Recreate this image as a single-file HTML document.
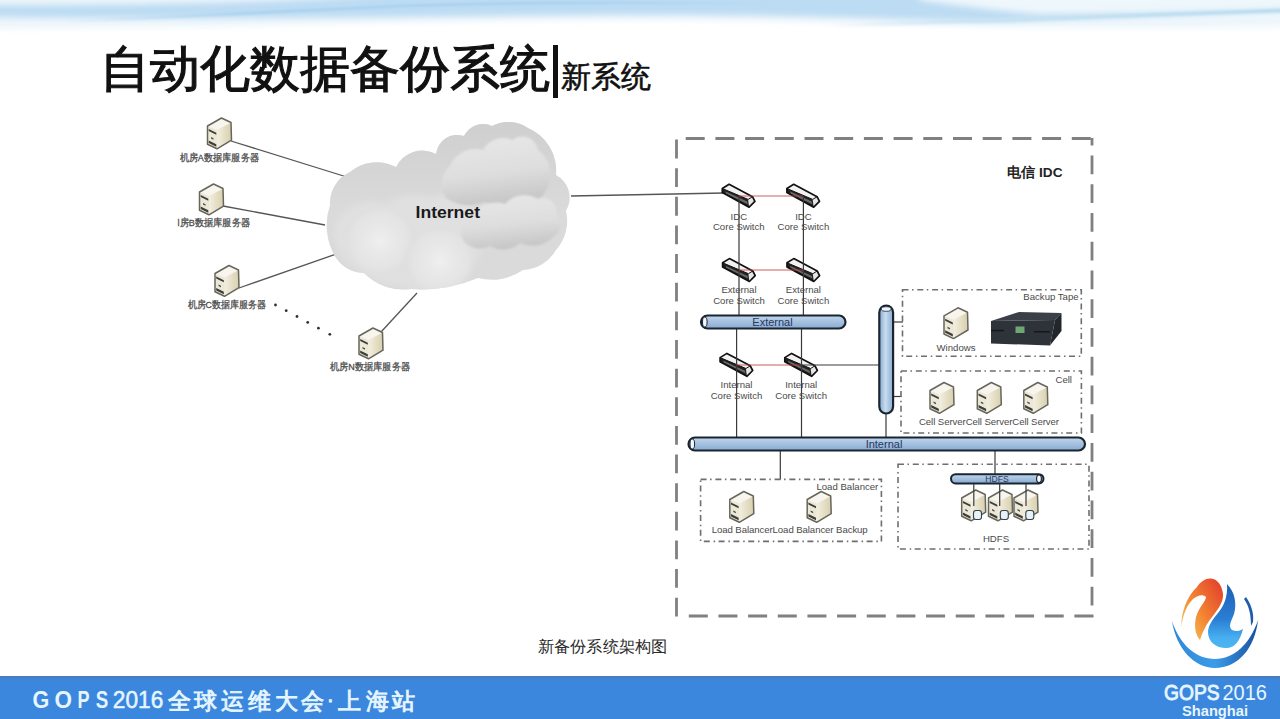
<!DOCTYPE html>
<html><head><meta charset="utf-8">
<style>
html,body{margin:0;padding:0;background:#fff;}
body{width:1280px;height:719px;overflow:hidden;position:relative;font-family:"Liberation Sans",sans-serif;}
svg{position:absolute;left:0;top:0;}
.t{position:absolute;white-space:nowrap;line-height:1;}
</style></head><body>
<svg width="1280" height="719" viewBox="0 0 1280 719" font-family="Liberation Sans, sans-serif">
<defs>
  <linearGradient id="ctop" x1="0" y1="0" x2="0" y2="1">
    <stop offset="0" stop-color="#c8c8c8" stop-opacity="0.7"/>
    <stop offset="1" stop-color="#c8c8c8" stop-opacity="0"/>
  </linearGradient>
  <linearGradient id="streak1" gradientUnits="userSpaceOnUse" x1="60" y1="0" x2="780" y2="0">
    <stop offset="0" stop-color="#a8d0ee" stop-opacity="0"/>
    <stop offset="0.3" stop-color="#a8d0ee" stop-opacity="1"/>
    <stop offset="0.7" stop-color="#a8d0ee" stop-opacity="1"/>
    <stop offset="1" stop-color="#a8d0ee" stop-opacity="0"/>
  </linearGradient>
  <linearGradient id="streak2" gradientUnits="userSpaceOnUse" x1="820" y1="0" x2="1300" y2="0">
    <stop offset="0" stop-color="#c6e2f2" stop-opacity="0"/>
    <stop offset="0.4" stop-color="#c6e2f2" stop-opacity="1"/>
    <stop offset="1" stop-color="#b8dcf0" stop-opacity="1"/>
  </linearGradient>
  <filter id="blur1" x="-10%" y="-10%" width="120%" height="120%"><feGaussianBlur stdDeviation="1"/></filter>
  <linearGradient id="cbase" x1="0" y1="0" x2="0" y2="1">
    <stop offset="0" stop-color="#d6d6d6"/>
    <stop offset="1" stop-color="#d0d0d0"/>
  </linearGradient>
  <linearGradient id="lobe" x1="0" y1="0" x2="0.2" y2="1">
    <stop offset="0" stop-color="#e8e8e8"/>
    <stop offset="0.6" stop-color="#dedede"/>
    <stop offset="1" stop-color="#c8c8c8"/>
  </linearGradient>
  <filter id="blur3" x="-5%" y="-50%" width="110%" height="200%"><feGaussianBlur stdDeviation="3"/></filter>
  <linearGradient id="crescent" x1="0" y1="0" x2="1" y2="0">
    <stop offset="0" stop-color="#2f86d8"/>
    <stop offset="0.5" stop-color="#3a9ce8"/>
    <stop offset="1" stop-color="#1a4fa0"/>
  </linearGradient>
  <linearGradient id="flame" x1="0" y1="0.8" x2="0.9" y2="0">
    <stop offset="0" stop-color="#f2c458"/>
    <stop offset="0.45" stop-color="#f38232"/>
    <stop offset="1" stop-color="#e2402c"/>
  </linearGradient>
  <linearGradient id="bswirl" x1="0" y1="0" x2="0" y2="1">
    <stop offset="0" stop-color="#1d5fb5"/>
    <stop offset="0.55" stop-color="#2a7ed4"/>
    <stop offset="0.85" stop-color="#48b0f0"/>
    <stop offset="1" stop-color="#4cb4f2"/>
  </linearGradient>
  <linearGradient id="topband" x1="0" y1="0" x2="0" y2="1">
    <stop offset="0" stop-color="#e9f4fb"/>
    <stop offset="0.3" stop-color="#b9dcf3"/>
    <stop offset="0.6" stop-color="#d8ecf8"/>
    <stop offset="1" stop-color="#ffffff" stop-opacity="0"/>
  </linearGradient>
  <linearGradient id="busH" x1="0" y1="0" x2="0" y2="1">
    <stop offset="0" stop-color="#c2d7ec"/>
    <stop offset="0.45" stop-color="#a6c2e0"/>
    <stop offset="1" stop-color="#88abd2"/>
  </linearGradient>
  <linearGradient id="busV" x1="0" y1="0" x2="1" y2="0">
    <stop offset="0" stop-color="#86a9d0"/>
    <stop offset="0.45" stop-color="#c8dcf0"/>
    <stop offset="1" stop-color="#88abd2"/>
  </linearGradient>
  <linearGradient id="srvR" x1="0" y1="0" x2="1" y2="0">
    <stop offset="0" stop-color="#f3efe0"/>
    <stop offset="1" stop-color="#d8cfae"/>
  </linearGradient>
  <radialGradient id="puff" cx="0.45" cy="0.4" r="0.6">
    <stop offset="0" stop-color="#e8e8e8"/>
    <stop offset="1" stop-color="#cdcdcd"/>
  </radialGradient>
  <g id="srv">
    <path d="M0,8.5 L14,0.5 L23.5,5 L24,22.7 L9.5,31.3 L0,26.7 Z" fill="#ece8d8"/>
    <path d="M9.5,12.5 L23.5,5 L24,22.7 L9.5,31.3 Z" fill="url(#srvR)"/>
    <path d="M0,8.5 L14,0.5 L23.5,5 L9.5,12.5 Z" fill="#f7f5ee"/>
    <path d="M1.2,11.5 L8.8,15.3 L8.8,17.3 L1.2,13.5 Z" fill="#3e3e38"/>
    <path d="M3.5,19.5 L6,20.8 L6,22.3 L3.5,21 Z" fill="#4a4a44"/>
    <path d="M1.2,23 L8.8,26.8 L8.8,29.3 L1.2,25.5 Z" fill="#3e3e38"/>
    <path d="M0,8.5 L14,0.5 L23.5,5 L24,22.7 L9.5,31.3 L0,26.7 Z" fill="none" stroke="#66665c" stroke-width="1.5" stroke-linejoin="round"/>
  </g>
  <g id="sw">
    <path d="M-16.4,-7.4 L-9.6,-11.6 L13.8,0.8 L9.4,3.5 Z" fill="#f2f2f2"/>
    <path d="M9.4,3.5 L13.8,0.8 L16.2,5.5 L10.4,11.3 Z" fill="#e6e6e6"/>
    <path d="M-16.4,-7.4 L9.4,3.5 L10.4,11.3 L-16.4,-3.3 Z" fill="#222"/>
    <path d="M-13,-4.3 L8.5,5.7 L9,8.3 L-13,-2.4 Z" fill="#6a6a6a"/>
    <path d="M-16.4,-7.4 L-9.6,-11.6 L13.8,0.8 L16.2,5.5 L10.4,11.3 L-16.4,-3.3 Z" fill="none" stroke="#111" stroke-width="1.7" stroke-linejoin="round"/>
    <path d="M-16.4,-7.4 L9.4,3.5 L13.8,0.8" fill="none" stroke="#111" stroke-width="1"/>
  </g>
  <radialGradient id="pl" cx="0.5" cy="0.45" r="0.5">
    <stop offset="0" stop-color="#f0f0f0" stop-opacity="0.95"/>
    <stop offset="0.7" stop-color="#e6e6e6" stop-opacity="0.6"/>
    <stop offset="1" stop-color="#d8d8d8" stop-opacity="0"/>
  </radialGradient>
  <radialGradient id="pd" cx="0.5" cy="0.5" r="0.5">
    <stop offset="0" stop-color="#c4c4c4" stop-opacity="0"/>
    <stop offset="0.8" stop-color="#c4c4c4" stop-opacity="0.25"/>
    <stop offset="1" stop-color="#bdbdbd" stop-opacity="0.5"/>
  </radialGradient>
  <clipPath id="cc"><path d="M336.0,258.0 A62.3,62.3 0 0 1 330.0,205.0 A34.0,34.0 0 0 1 350.0,172.0 A41.7,41.7 0 0 1 396.0,167.0 A29.1,29.1 0 0 1 436.0,154.0 A21.3,21.3 0 0 1 464.0,136.0 A21.4,21.4 0 0 1 492.0,126.0 A35.0,35.0 0 0 1 528.0,128.0 A46.1,46.1 0 0 1 556.0,175.0 A25.8,25.8 0 0 1 566.0,211.0 A43.0,43.0 0 0 1 556.0,250.0 A39.7,39.7 0 0 1 523.0,270.0 A54.7,54.7 0 0 1 478.0,278.0 A146.1,146.1 0 0 1 411.0,289.0 A54.4,54.4 0 0 1 364.0,273.0 A33.5,33.5 0 0 1 336.0,258.0 Z"/></clipPath>
  <path id="cloudp" d="M336.0,258.0 A62.3,62.3 0 0 1 330.0,205.0 A34.0,34.0 0 0 1 350.0,172.0 A41.7,41.7 0 0 1 396.0,167.0 A29.1,29.1 0 0 1 436.0,154.0 A21.3,21.3 0 0 1 464.0,136.0 A21.4,21.4 0 0 1 492.0,126.0 A35.0,35.0 0 0 1 528.0,128.0 A46.1,46.1 0 0 1 556.0,175.0 A25.8,25.8 0 0 1 566.0,211.0 A43.0,43.0 0 0 1 556.0,250.0 A39.7,39.7 0 0 1 523.0,270.0 A54.7,54.7 0 0 1 478.0,278.0 A146.1,146.1 0 0 1 411.0,289.0 A54.4,54.4 0 0 1 364.0,273.0 A33.5,33.5 0 0 1 336.0,258.0 Z"/>
  </defs>

<!-- top band -->
<g filter="url(#blur3)">
  <path d="M-20,-10 L1300,-10 L1300,26 C1150,30 1000,28 800,22 C600,18 400,22 200,27 C100,28 30,29 -20,29 Z" fill="#edf6fb"/>
  <path d="M-20,5 C100,5 300,3 380,-6 L900,-6 C950,-2 1000,4 1040,8 C1100,10 1150,8 1300,4 L1300,10 C1200,14 1100,18 1000,22 C900,20 800,14 600,15 C400,17 200,20 -20,17 Z" fill="#bcdcf3"/>
  <path d="M920,-10 L1300,-10 L1300,8 C1200,12 1100,14 1040,14 C990,10 950,4 920,0 Z" fill="#eef7fc"/>
</g>
<g filter="url(#blur1)" fill="none">
  <path d="M60,22 C200,16 300,10 400,6 C520,2 640,2 780,4" stroke="url(#streak1)" stroke-width="2.5"/>
  <path d="M820,26 C1000,21 1150,14 1300,10" stroke="url(#streak2)" stroke-width="4"/>
</g>
<!-- left lines -->
<g stroke="#555" stroke-width="1.3" fill="none">
  <line x1="231" y1="141" x2="350" y2="178"/>
  <line x1="223" y1="206" x2="325" y2="225"/>
  <line x1="239" y1="288" x2="342" y2="252"/>
  <line x1="381" y1="332" x2="417" y2="293"/>
  <line x1="571" y1="196" x2="724" y2="193"/>
</g>
<g fill="#333">
  <circle cx="275.5" cy="305" r="1.4"/><circle cx="286.2" cy="310.7" r="1.4"/><circle cx="297" cy="316.5" r="1.4"/><circle cx="307.7" cy="322.4" r="1.4"/><circle cx="318.4" cy="328.2" r="1.4"/><circle cx="329.8" cy="334.3" r="1.4"/>
</g>

<!-- cloud -->
<g id="cloud">
  <use href="#cloudp" fill="#dadada"/>
  <g clip-path="url(#cc)">
  <rect x="320" y="110" width="260" height="100" fill="url(#ctop)"/>
  <path d="M335.0,240.0 A24.6,24.6 0 0 1 345.0,212.0 A37.4,37.4 0 0 1 385.0,205.0 A46.2,46.2 0 0 1 430.0,198.0 A36.9,36.9 0 0 1 470.0,203.0 A60.2,60.2 0 0 1 480.0,250.0 A47.3,47.3 0 0 1 450.0,285.0 A55.1,55.1 0 0 1 400.0,285.0 A48.1,48.1 0 0 1 360.0,270.0 A40.6,40.6 0 0 1 335.0,240.0 Z" fill="#e0e0e0" filter="url(#blur3)"/>
  <circle cx="380" cy="245" r="40" fill="url(#pl)"/>
  <circle cx="440" cy="265" r="40" fill="url(#pl)"/>
  <g filter="url(#blur1)">
  <path d="M446.0,198.0 A24.7,24.7 0 0 1 450.0,166.0 A27.5,27.5 0 0 1 483.0,150.0 A22.6,22.6 0 0 1 512.0,140.0 A16.1,16.1 0 0 1 538.0,150.0 A30.0,30.0 0 0 1 546.0,190.0 A16.3,16.3 0 0 1 522.0,198.0 A37.1,37.1 0 0 1 485.0,202.0 A40.9,40.9 0 0 1 446.0,198.0 Z" fill="url(#lobe)"/>
  <path d="M463.0,240.0 A18.1,18.1 0 0 1 470.0,216.0 A31.5,31.5 0 0 1 505.0,204.0 A26.2,26.2 0 0 1 538.0,199.0 A13.3,13.3 0 0 1 556.0,214.0 A15.3,15.3 0 0 1 552.0,238.0 A28.7,28.7 0 0 1 520.0,243.0 A25.2,25.2 0 0 1 490.0,246.0 A21.6,21.6 0 0 1 463.0,240.0 Z" fill="url(#lobe)"/>
  </g>
  </g>
</g>
<text x="415.5" y="218.2" font-size="15.8" font-weight="bold" fill="#1a1a1a" textLength="64.5" lengthAdjust="spacingAndGlyphs">Internet</text>

<!-- servers left -->
<use href="#srv" x="207.5" y="117.5"/>
<use href="#srv" x="199.5" y="183.5"/>
<use href="#srv" x="215" y="265"/>
<use href="#srv" x="359" y="327.5"/>

<!-- IDC box -->
<g stroke="#808080" stroke-width="2.8" fill="none">
  <line x1="685.7" y1="138.5" x2="1093" y2="138.5" stroke-dasharray="19 10.7"/>
  <line x1="1092" y1="138" x2="1092" y2="617" stroke-dasharray="18.6 10.15" stroke-dashoffset="11.15"/>
  <line x1="688.8" y1="616" x2="1094" y2="616" stroke-dasharray="19 10.66"/>
  <line x1="676.5" y1="139.6" x2="676.5" y2="617" stroke-dasharray="18.8 9.83"/>
</g>
<text x="1007" y="176.5" font-size="13.5" font-weight="bold" fill="#222" textLength="55.5" lengthAdjust="spacingAndGlyphs">电信 IDC</text>

<!-- switches -->
<use href="#sw" transform="translate(738.7,195.9)"/>
<use href="#sw" transform="translate(803.3,195.9)"/>
<use href="#sw" transform="translate(739,270.2)"/>
<use href="#sw" transform="translate(803.4,270.2)"/>
<use href="#sw" transform="translate(736.5,365)"/>
<use href="#sw" transform="translate(801.2,365)"/>

<!-- connection lines -->
<g stroke="#3a3a3a" stroke-width="1.2" fill="none">
  <line x1="739" y1="196" x2="739" y2="315"/>
  <line x1="803.4" y1="196" x2="803.4" y2="315"/>
  <line x1="736.6" y1="329" x2="736.6" y2="437"/>
  <line x1="801.5" y1="329" x2="801.5" y2="437"/>
  <line x1="801" y1="365" x2="879" y2="365"/>
  <line x1="886" y1="413" x2="886" y2="437"/>
  <line x1="894" y1="322" x2="903" y2="322"/>
  <line x1="894" y1="396.5" x2="901.5" y2="396.5"/>
  <line x1="780.3" y1="451" x2="780.3" y2="479.5"/>
  <line x1="995" y1="451" x2="995" y2="474"/>
</g>
<g stroke="#c23b3b" stroke-width="0.9" fill="none" opacity="0.9">
  <line x1="739" y1="196" x2="803" y2="196"/>
  <line x1="739" y1="270" x2="803" y2="270"/>
  <line x1="736.5" y1="365" x2="801" y2="365"/>
</g>

<g font-size="9.6" fill="#4a4a4a" text-anchor="middle">
  <text x="738.8" y="219.5">IDC</text>
  <text x="738.8" y="230">Core Switch</text>
  <text x="803.4" y="219.5">IDC</text>
  <text x="803.4" y="230">Core Switch</text>
  <text x="739" y="293">External</text>
  <text x="739" y="304">Core Switch</text>
  <text x="803.4" y="293">External</text>
  <text x="803.4" y="304">Core Switch</text>
  <text x="736.5" y="388.2">Internal</text>
  <text x="736.5" y="399">Core Switch</text>
  <text x="801.2" y="388.2">Internal</text>
  <text x="801.2" y="399">Core Switch</text>
</g>

<!-- buses -->
<rect x="701" y="315.5" width="144.5" height="13" rx="6.5" fill="url(#busH)" stroke="#1b2530" stroke-width="2.2"/>
<ellipse cx="704.8" cy="322" rx="2.3" ry="5" fill="#f4f8fc" stroke="#1b2530" stroke-width="1"/>
<text x="772.5" y="326" font-size="11" fill="#26385f" text-anchor="middle">External</text>

<rect x="688.5" y="437.5" width="396.5" height="13" rx="6.5" fill="url(#busH)" stroke="#1b2530" stroke-width="2.2"/>
<ellipse cx="692.3" cy="444" rx="2.3" ry="5" fill="#f4f8fc" stroke="#1b2530" stroke-width="1"/>
<text x="884" y="447.5" font-size="11" fill="#26385f" text-anchor="middle">Internal</text>

<rect x="879.3" y="305.5" width="13.8" height="108" rx="6.9" fill="url(#busV)" stroke="#1b2530" stroke-width="2.2"/>
<ellipse cx="886.2" cy="309" rx="5" ry="2.3" fill="#eef4fa" stroke="#1b2530" stroke-width="0.8"/>

<rect x="951" y="474.2" width="92.5" height="9.2" rx="4.6" fill="url(#busH)" stroke="#1b2530" stroke-width="2"/>
<ellipse cx="1039" cy="478.8" rx="2.4" ry="3.8" fill="#fafcff" stroke="#1b2530" stroke-width="1.2"/>
<text x="997" y="481.5" font-size="8.6" fill="#26385f" text-anchor="middle">HDFS</text>

<!-- dash-dot boxes -->
<g stroke="#6e6e6e" stroke-width="1.6" fill="none" stroke-dasharray="6 3.5 1.5 3.8">
  <rect x="902.5" y="289.8" width="178.8" height="66.5"/>
  <rect x="901" y="371" width="180.4" height="62"/>
  <rect x="700.6" y="479.4" width="180.8" height="62"/>
  <rect x="898" y="464.3" width="191" height="84.7"/>
</g>
<g font-size="9.6" fill="#4a4a4a">
  <text x="1078.6" y="299.5" text-anchor="end">Backup Tape</text>
  <text x="956" y="350.6" text-anchor="middle">Windows</text>
  <text x="1072" y="382.8" text-anchor="end">Cell</text>
  <text x="989" y="425.3" text-anchor="middle" textLength="140">Cell ServerCell ServerCell Server</text>
  <text x="878.3" y="490.3" text-anchor="end">Load Balancer</text>
  <text x="789.7" y="532.6" text-anchor="middle" textLength="156">Load BalancerLoad Balancer Backup</text>
  <text x="996" y="541.8" text-anchor="middle">HDFS</text>
</g>

<!-- right servers -->
<use href="#srv" x="944" y="307.3"/>
<use href="#srv" x="930" y="382"/>
<use href="#srv" x="977.3" y="382"/>
<use href="#srv" x="1023.8" y="382"/>
<use href="#srv" x="729.8" y="491"/>
<use href="#srv" x="807.2" y="491"/>
<use href="#srv" x="961.7" y="489.5"/>
<use href="#srv" x="988.5" y="489.5"/>
<use href="#srv" x="1014" y="489.5"/>
<g stroke="#3a3a3a" stroke-width="1.2">
  <line x1="973.8" y1="484" x2="973.8" y2="506"/>
  <line x1="999.7" y1="484" x2="999.7" y2="506"/>
  <line x1="1026" y1="484" x2="1026" y2="506"/>
</g>
<g fill="#e8f1f8" stroke="#33404a" stroke-width="1.1">
  <rect x="973.5" y="510.5" width="8" height="9" rx="2.5"/>
  <rect x="1000.3" y="510.5" width="8" height="9" rx="2.5"/>
  <rect x="1025.8" y="510.5" width="8" height="9" rx="2.5"/>
</g>

<!-- tape drive -->
<path d="M991,321 L1019,312 L1061.5,313 L1055,320 Z" fill="#3b4048"/>
<path d="M991,321 L1055,320 L1050,345.5 L991,343.5 Z" fill="#2e3339"/>
<path d="M1055,320 L1061.5,313 L1061.5,331 L1050,345.5 Z" fill="#23272c"/>
<rect x="1015.5" y="326.5" width="9" height="6.5" fill="#6fa674"/>
<rect x="991" y="329.8" width="13" height="1.5" fill="#15181b"/>
<rect x="1034" y="331" width="16" height="1.5" fill="#15181b"/>


<!-- left labels -->
<g font-size="9.8" fill="#4e4e4e" stroke="#4e4e4e" stroke-width="0.3">
  <text x="179.5" y="161" textLength="79.5" lengthAdjust="spacingAndGlyphs">机房A数据库服务器</text>
  <text x="177.5" y="226" textLength="72.5" lengthAdjust="spacingAndGlyphs">l房B数据库服务器</text>
  <text x="187.5" y="308.3" textLength="78.5" lengthAdjust="spacingAndGlyphs">机房C数据库服务器</text>
  <text x="330" y="370" textLength="80" lengthAdjust="spacingAndGlyphs">机房N数据库服务器</text>
</g>
<text x="537.5" y="652" font-size="16" fill="#2a2a2a" textLength="130" lengthAdjust="spacingAndGlyphs">新备份系统架构图</text>

<!-- logo -->
<g>
  <path d="M1172,621 C1176,648 1194,668 1215,668 C1238,668 1255,648 1258,620 C1250,644 1234,659 1215,659 C1196,659 1180,645 1172,621 Z" fill="url(#crescent)"/>
  <path d="M1246,597 C1252,606 1254,614 1253,622 L1251,626 C1251,614 1249,606 1244,599 Z" fill="#1f5cae"/>
  <path d="M1181.3,627 C1181,612 1187,596 1197,587 C1201,581 1206,578 1211,578.5 C1217,579 1222,585 1223,594 C1224,603 1215,613 1209,621 C1205,627 1202,633 1200,640 C1195,634 1194,626 1196,617 C1199,607 1206,601 1206,597 C1203,594 1198,595 1193,599 C1187,605 1183,614 1181.3,627 Z" fill="url(#flame)"/>
  <path d="M1227,584 C1235,592 1237,604 1234,614 C1231,622 1228,626 1232,630 C1236,632 1240,631 1243,629 C1240,641 1235,648 1226,648 C1216,648 1208,642 1208,632 C1208,625 1214,618 1218,613 C1224,606 1228,596 1227,584 Z" fill="url(#bswirl)"/>
</g>
</svg>

<div class="t" style="left:100px;top:44px;font-size:50px;color:#111;-webkit-text-stroke:1.1px #111;">自动化数据备份系统</div>
<div class="t" style="left:553px;top:45px;width:4.5px;height:53px;background:#111;"></div>
<div class="t" style="left:561px;top:62px;font-size:29.5px;color:#111;-webkit-text-stroke:0.6px #111;">新系统</div>

<div class="t" style="left:0;top:676px;width:1280px;height:43px;background:#3b87de;"></div>
<div class="t" style="left:0;top:676px;width:1280px;height:3px;background:linear-gradient(#5079b0,#3d84d6);"></div>
<svg width="1280" height="719" viewBox="0 0 1280 719" style="position:absolute;left:0;top:0" font-family="Liberation Sans, sans-serif">
  <g fill="#e6f6ff" stroke="#e6f6ff" stroke-width="0.4">
    <text x="32.5" y="708.3" font-size="23.5" font-weight="bold" textLength="16.8" lengthAdjust="spacingAndGlyphs" stroke-width="0">G</text>
    <text x="54.5" y="708.3" font-size="23.5" font-weight="bold" textLength="17.5" lengthAdjust="spacingAndGlyphs" stroke-width="0">O</text>
    <text x="77.6" y="708.3" font-size="23.5" font-weight="bold" textLength="12" lengthAdjust="spacingAndGlyphs" stroke-width="0">P</text>
    <text x="95.8" y="708.3" font-size="23.5" font-weight="bold" textLength="12.5" lengthAdjust="spacingAndGlyphs" stroke-width="0">S</text>
    <text x="112.8" y="708.3" font-size="23.5" textLength="50.5" lengthAdjust="spacingAndGlyphs" stroke-width="0.5">2016</text>
    <text x="167.5 193.5 221 247.5 274.5 300.5" y="708.5" font-size="23" stroke-width="0.9">全球运维大会</text>
    <text x="327" y="706" font-size="20" stroke-width="0.9">·</text>
    <text x="338 365.5 391.5" y="708.5" font-size="23" stroke-width="0.9">上海站</text>
    <text x="1164" y="699.5" font-size="22" textLength="55.5" lengthAdjust="spacingAndGlyphs" stroke-width="0.9">GOPS</text>
    <text x="1222.5" y="699.5" font-size="21.5" textLength="44.5" lengthAdjust="spacingAndGlyphs" stroke-width="0">2016</text>
    <text x="1182" y="715.5" font-size="14" font-weight="bold" textLength="66" lengthAdjust="spacingAndGlyphs" stroke-width="0">Shanghai</text>
  </g>
</svg>

</body></html>
